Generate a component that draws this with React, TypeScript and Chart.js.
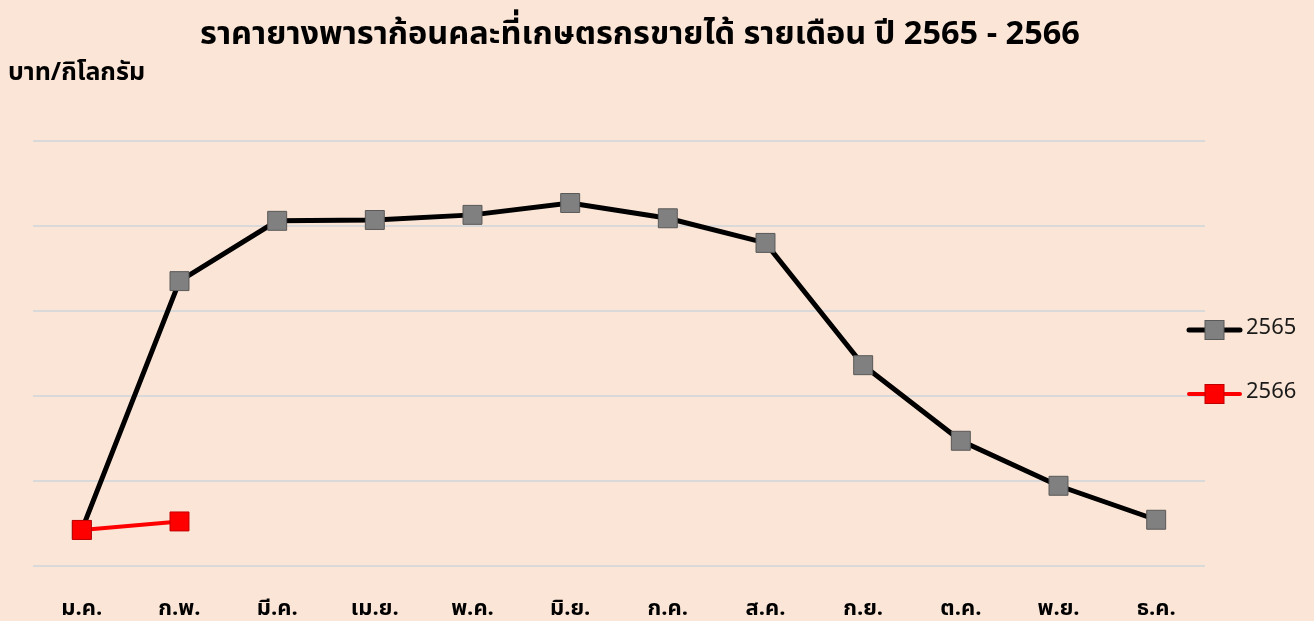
import React, { useEffect, useRef } from "react";
import { Chart, registerables } from "chart.js";

Chart.register(...registerables);

const months = ["ม.ค.", "ก.พ.", "มี.ค.", "เม.ย.", "พ.ค.", "มิ.ย.", "ก.ค.", "ส.ค.", "ก.ย.", "ต.ค.", "พ.ย.", "ธ.ค."];
const series2565 = [18.42, 21.35, 22.06, 22.07, 22.13, 22.27, 22.09, 21.8, 20.36, 19.47, 18.94, 18.54];
const series2566 = [18.42, 18.52, null, null, null, null, null, null, null, null, null, null];
const seriesNames = ["2565", "2566"];
const titleText = "ราคายางพาราก้อนคละที่เกษตรกรขายได้ รายเดือน ปี 2565 - 2566";
const unitText = "บาท/กิโลกรัม";

const FONT = "'Noto Sans Thai', 'Noto Sans', Tahoma, sans-serif";
const BG = "#FBE5D6";

const decorPlugin = {
  id: "decor",
  beforeDraw(chart: any) {
    const ctx = chart.ctx;
    ctx.save();
    ctx.fillStyle = BG;
    ctx.fillRect(0, 0, chart.width, chart.height);
    ctx.restore();
  },
  afterDraw(chart: any) {
    const ctx = chart.ctx;
    ctx.save();
    ctx.fillStyle = "#000";
    ctx.textBaseline = "middle";
    ctx.textAlign = "center";
    ctx.font = `bold 32.5px ${FONT}`;
    ctx.fillText(titleText, 640, 37);
    ctx.textAlign = "left";
    ctx.font = `bold 25px ${FONT}`;
    ctx.fillText(unitText, 8, 75);

    const items = [
      { name: seriesNames[0], line: "#000000", fill: "#808080", border: "#595959", lw: 5, y: 330 },
      { name: seriesNames[1], line: "#FF0000", fill: "#FF0000", border: "#C00000", lw: 4, y: 394 },
    ];
    for (const it of items) {
      ctx.strokeStyle = it.line;
      ctx.lineWidth = it.lw;
      ctx.lineCap = "round";
      ctx.beginPath();
      ctx.moveTo(1189, it.y);
      ctx.lineTo(1240, it.y);
      ctx.stroke();
      ctx.fillStyle = it.fill;
      ctx.strokeStyle = it.border;
      ctx.lineWidth = 1;
      ctx.fillRect(1205, it.y - 9.5, 19, 19);
      ctx.strokeRect(1205, it.y - 9.5, 19, 19);
      ctx.fillStyle = "#1a1a1a";
      ctx.font = `22px ${FONT}`;
      ctx.textAlign = "left";
      ctx.fillText(it.name, 1246, it.y);
    }
    ctx.restore();
  },
};

export default function App() {
  const ref = useRef<HTMLCanvasElement>(null);
  useEffect(() => {
    if (!ref.current) return;
    const chart = new Chart(ref.current, {
      type: "line",
      data: {
        labels: months,
        datasets: [
          {
            label: seriesNames[1],
            data: series2566,
            borderColor: "#FF0000",
            borderWidth: 4,
            backgroundColor: "#FF0000",
            pointStyle: "rect",
            pointRadius: 13.4,
            pointBorderColor: "#C00000",
            pointBorderWidth: 1,
            tension: 0,
            spanGaps: false,
          },
          {
            label: seriesNames[0],
            data: series2565,
            borderColor: "#000000",
            borderWidth: 5,
            backgroundColor: "#808080",
            pointStyle: "rect",
            pointRadius: 13.4,
            pointBorderColor: "#595959",
            pointBorderWidth: 1,
            tension: 0,
          },
        ],
      },
      options: {
        animation: false,
        responsive: false,
        layout: { padding: { left: 33, right: 109, top: 141, bottom: -35 } },
        plugins: { legend: { display: false }, title: { display: false }, tooltip: { enabled: false } },
        scales: {
          x: {
            offset: true,
            grid: { display: false, drawTicks: false },
            border: { display: false },
            ticks: { color: "#000", font: { family: FONT, size: 22, weight: "bold" }, padding: 32, maxRotation: 0 },
          },
          y: {
            min: 18,
            max: 23,
            ticks: { display: false, stepSize: 1 },
            grid: { color: "#D9D9D9", lineWidth: 2, drawTicks: false },
            border: { display: false },
          },
        },
      },
      plugins: [decorPlugin],
    });
    return () => chart.destroy();
  }, []);
  return (
    <div style={{ position: "fixed", left: 0, top: 0, width: 1314, height: 621, background: BG }}>
      <canvas ref={ref} width={1314} height={621} style={{ display: "block", width: 1314, height: 621 }} />
    </div>
  );
}
